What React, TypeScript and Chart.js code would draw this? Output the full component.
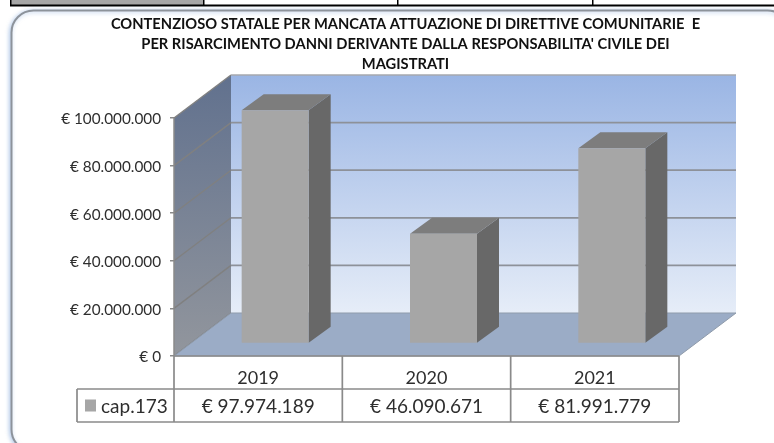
import React, { useEffect, useRef } from "react";
import { Chart, registerables } from "chart.js";

Chart.register(...registerables);

const categories = ["2019", "2020", "2021"];
const seriesName = "cap.173";
const seriesValues = [97974189, 46090671, 81991779];
const titleLines = [
  "CONTENZIOSO STATALE PER MANCATA ATTUAZIONE DI DIRETTIVE COMUNITARIE  E",
  "PER RISARCIMENTO DANNI DERIVANTE DALLA RESPONSABILITA' CIVILE DEI",
  "MAGISTRATI",
];

const FONT = "Lato, 'Open Sans', sans-serif";
const TEXT = "#2e2e2e";
const BAR = "#a6a6a6";
const WALL = { x: 57, y: -43 };
const BAR_SHIFT = { x: 17, y: -12.5 };
const BAR_DEPTH = { x: 22, y: -16 };
const ROW = 33;
const KEY_LEFT = 77;

const euro = (v: number) => "€ " + String(Math.round(v)).replace(/\B(?=(\d{3})+(?!\d))/g, ".");

const poly = (ctx: CanvasRenderingContext2D, pts: number[][]) => {
  ctx.beginPath();
  pts.forEach(([x, y], i) => (i ? ctx.lineTo(x, y) : ctx.moveTo(x, y)));
  ctx.closePath();
};

const pagePlugin = {
  id: "page",
  afterLayout(chart: any) {
    chart.titleBlock.left = 37;
    chart.titleBlock.right = 774;
  },
  beforeDraw(chart: any) {
    const ctx = chart.ctx as CanvasRenderingContext2D;
    ctx.save();
    ctx.fillStyle = "#ffffff";
    ctx.fillRect(0, 0, chart.width, chart.height);
    ctx.fillStyle = "#a6a6a6";
    ctx.fillRect(11, 0, 192, 5);
    ctx.fillStyle = "#000000";
    ctx.fillRect(10, 4.5, 764, 2);
    ctx.fillRect(10, 0, 1.5, 6);
    [203, 397, 592].forEach((x) => ctx.fillRect(x, 0, 1.5, 6));
    ctx.save();
    ctx.shadowColor = "rgba(120,160,215,0.55)";
    ctx.shadowBlur = 4;
    ctx.shadowOffsetX = -1;
    ctx.shadowOffsetY = 1;
    ctx.strokeStyle = "#8d939b";
    ctx.lineWidth = 2;
    ctx.beginPath();
    ctx.roundRect(11.5, 10.5, 778, 441, 22);
    ctx.fillStyle = "#ffffff";
    ctx.fill();
    ctx.stroke();
    ctx.restore();
    ctx.restore();
  },
  beforeDatasetsDraw(chart: any) {
    const ctx = chart.ctx as CanvasRenderingContext2D;
    const { left, right, top, bottom } = chart.chartArea;
    const y = chart.scales.y;
    ctx.save();
    const bx = left + WALL.x;
    const rx = right + WALL.x;
    const ty = top + WALL.y;
    const by = bottom + WALL.y;

    let g = ctx.createLinearGradient(0, ty, 0, by);
    g.addColorStop(0, "#9ab5e4");
    g.addColorStop(1, "#e6edf8");
    ctx.fillStyle = g;
    ctx.fillRect(bx, ty, rx - bx, by - ty);

    g = ctx.createLinearGradient(0, ty, 0, bottom);
    g.addColorStop(0, "#61718e");
    g.addColorStop(1, "#92969d");
    ctx.fillStyle = g;
    poly(ctx, [[left, top], [bx, ty], [bx, by], [left, bottom]]);
    ctx.fill();

    y.ticks.forEach((t: any) => {
      const py = y.getPixelForValue(t.value);
      ctx.strokeStyle = "#808080";
      ctx.lineWidth = 1.4;
      ctx.beginPath();
      ctx.moveTo(left, py);
      ctx.lineTo(bx, py + WALL.y);
      ctx.stroke();
      if (t.value === 0) return;
      ctx.strokeStyle = t.value === y.max ? "#a6a9ae" : "#8d9199";
      ctx.lineWidth = 1.7;
      ctx.beginPath();
      ctx.moveTo(bx, py + WALL.y);
      ctx.lineTo(rx, py + WALL.y);
      ctx.stroke();
    });
    ctx.strokeStyle = "#8a8a8a";
    ctx.lineWidth = 1.5;
    ctx.beginPath();
    ctx.moveTo(left, top);
    ctx.lineTo(left, bottom);
    ctx.stroke();

    ctx.fillStyle = "#9bacc6";
    poly(ctx, [[left, bottom], [bx, by], [rx, by], [right, bottom]]);
    ctx.fill();
    ctx.strokeStyle = "#8f9bab";
    ctx.lineWidth = 1;
    ctx.stroke();
    ctx.restore();

    // The bars stand inside the floor: shift the library's own bars, add their depth faces.
    ctx.save();
    ctx.translate(BAR_SHIFT.x, BAR_SHIFT.y);
    chart.getDatasetMeta(0).data.forEach((el: any) => {
      const { x, y: t, base, width } = el.getProps(["x", "y", "base", "width"], true);
      const l = x - width / 2;
      const r = x + width / 2;
      ctx.fillStyle = "#686868";
      poly(ctx, [[r, t], [r + BAR_DEPTH.x, t + BAR_DEPTH.y], [r + BAR_DEPTH.x, base + BAR_DEPTH.y], [r, base]]);
      ctx.fill();
      ctx.fillStyle = "#7d7d7d";
      poly(ctx, [[l, t], [l + BAR_DEPTH.x, t + BAR_DEPTH.y], [r + BAR_DEPTH.x, t + BAR_DEPTH.y], [r, t]]);
      ctx.fill();
    });
  },
  afterDatasetsDraw(chart: any) {
    chart.ctx.restore();
  },
  afterDraw(chart: any) {
    const ctx = chart.ctx as CanvasRenderingContext2D;
    const { left, right, bottom } = chart.chartArea;
    const x = chart.scales.x;
    const step = (right - left) / categories.length;
    ctx.save();
    ctx.strokeStyle = "#8a8a8a";
    ctx.lineWidth = 1.7;
    ctx.beginPath();
    ctx.moveTo(left, bottom);
    ctx.lineTo(right, bottom);
    for (let i = 0; i <= categories.length; i++) {
      ctx.moveTo(left + step * i, bottom);
      ctx.lineTo(left + step * i, bottom + ROW * 2);
    }
    ctx.moveTo(KEY_LEFT, bottom + ROW);
    ctx.lineTo(right, bottom + ROW);
    ctx.moveTo(KEY_LEFT, bottom + ROW * 2);
    ctx.lineTo(right, bottom + ROW * 2);
    ctx.moveTo(KEY_LEFT, bottom + ROW);
    ctx.lineTo(KEY_LEFT, bottom + ROW * 2);
    ctx.stroke();

    ctx.fillStyle = BAR;
    ctx.fillRect(KEY_LEFT + 8, bottom + ROW + 10.5, 11, 12);
    ctx.fillStyle = TEXT;
    ctx.font = `19px ${FONT}`;
    ctx.textBaseline = "middle";
    ctx.textAlign = "left";
    ctx.fillText(seriesName, KEY_LEFT + 24, bottom + ROW * 1.5 + 1);
    ctx.textAlign = "center";
    seriesValues.forEach((v, i) => {
      ctx.fillText(euro(v), x.getPixelForTick(i), bottom + ROW * 1.5 + 1);
    });
    ctx.restore();
  },
};

export default function App() {
  const ref = useRef<HTMLCanvasElement>(null);
  useEffect(() => {
    const chart = new Chart(ref.current!, {
      type: "bar",
      data: {
        labels: categories,
        datasets: [
          {
            label: seriesName,
            data: seriesValues,
            backgroundColor: BAR,
            categoryPercentage: 1,
            barPercentage: 0.398,
            clip: false,
          } as any,
        ],
      },
      plugins: [pagePlugin],
      options: {
        responsive: false,
        animation: false,
        devicePixelRatio: 1,
        layout: { padding: { left: 0, right: 95, top: 0, bottom: 0 } },
        plugins: {
          legend: { display: false },
          tooltip: { enabled: false },
          title: {
            display: true,
            text: titleLines,
            color: "#111111",
            font: { family: FONT, size: 14.7, weight: "bold", lineHeight: "20px" },
            padding: { top: 14, bottom: 44 },
          },
        },
        scales: {
          x: {
            grid: { display: false },
            border: { display: false },
            ticks: { color: TEXT, font: { family: FONT, size: 18 }, padding: 3, maxRotation: 0 },
            afterFit: (s: any) => { s.height = 87; },
          },
          y: {
            min: 0,
            max: 100000000,
            grid: { drawOnChartArea: false, drawTicks: true, tickLength: 4, color: "#8a8a8a", lineWidth: 1.5 },
            border: { display: false },
            ticks: {
              stepSize: 20000000,
              color: TEXT,
              padding: 9,
              labelOffset: 1.5,
              font: { family: FONT, size: 15.3 },
              callback: (v: any) => euro(Number(v)),
            },
            afterFit: (s: any) => { s.width = 174; },
          },
        },
      },
    } as any);
    return () => chart.destroy();
  }, []);
  return (
    <canvas
      ref={ref}
      width={774}
      height={443}
      style={{ position: "fixed", left: 0, top: 0, display: "block" }}
    />
  );
}
